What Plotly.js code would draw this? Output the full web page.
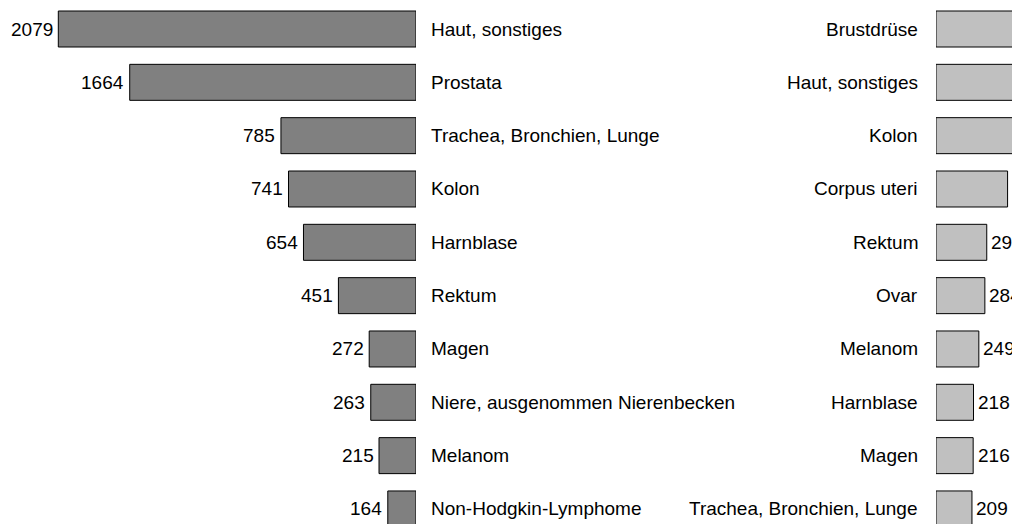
<!DOCTYPE html>
<html><head><meta charset="utf-8">
<script src="https://cdn.plot.ly/plotly-3.0.1.min.js"></script>
<style>html,body{margin:0;padding:0;background:#fff}</style>
</head><body><div id="chart" style="width:1012px;height:524px"></div>
<script>
const maleCategories = ["Haut, sonstiges","Prostata","Trachea, Bronchien, Lunge","Kolon","Harnblase","Rektum","Magen","Niere, ausgenommen Nierenbecken","Melanom","Non-Hodgkin-Lymphome"];
const maleValues = [2079,1664,785,741,654,451,272,263,215,164];
const femaleCategories = ["Brustdrüse","Haut, sonstiges","Kolon","Corpus uteri","Rektum","Ovar","Melanom","Harnblase","Magen","Trachea, Bronchien, Lunge"];
const femaleValues = [2450,1850,690,416,295,284,249,218,216,209];

const idx = maleCategories.map((_, i) => i);
const FONT = "Liberation Sans, Arial, Helvetica, sans-serif";
const tf = {family:FONT, size:19, color:"#000"};

const traces = [
  {type:"bar", orientation:"h", x:maleValues, y:idx, xaxis:"x", yaxis:"y",
   marker:{color:"#808080", line:{color:"#000", width:1}}, hoverinfo:"skip"},
  {type:"bar", orientation:"h", x:femaleValues, y:idx, xaxis:"x2", yaxis:"y2",
   marker:{color:"#c0c0c0", line:{color:"#000", width:1}}, hoverinfo:"skip"}
];

const annotations = [];
maleCategories.forEach((c, i) => annotations.push({
  text:c, x:0.4239, xref:"paper", y:i, yref:"y", xanchor:"left", yanchor:"middle",
  showarrow:false, font:tf
}));
femaleCategories.forEach((c, i) => annotations.push({
  text:c, x:0.9091, xref:"paper", y:i, yref:"y", xanchor:"right", yanchor:"middle",
  showarrow:false, font:tf
}));
maleValues.forEach((v, i) => annotations.push({
  text:String(v), x:v, xref:"x", y:i, yref:"y", xanchor:"right", yanchor:"middle",
  xshift:-3.5, showarrow:false, font:tf
}));
femaleValues.forEach((v, i) => annotations.push({
  text:String(v), x:v, xref:"x2", y:i, yref:"y2", xanchor:"left", yanchor:"middle",
  xshift:2.5, showarrow:false, font:tf
}));

const yr = [9.282, -0.544];
const layout = {
  width:1012, height:524, margin:{l:0,r:0,t:0,b:0},
  paper_bgcolor:"#fff", plot_bgcolor:"rgba(0,0,0,0)",
  showlegend:false, bargap:0.325,
  font:tf,
  xaxis:{domain:[0,0.41107], range:[2417.9,0], visible:false, fixedrange:true},
  xaxis2:{domain:[0.92490,1], range:[0,441.7], visible:false, fixedrange:true},
  yaxis:{range:yr, visible:false, anchor:"x"},
  yaxis2:{range:yr, visible:false, anchor:"x2", overlaying:"y"},
  annotations:annotations
};
Plotly.newPlot("chart", traces, layout, {displayModeBar:false, staticPlot:true});
</script></body></html>
